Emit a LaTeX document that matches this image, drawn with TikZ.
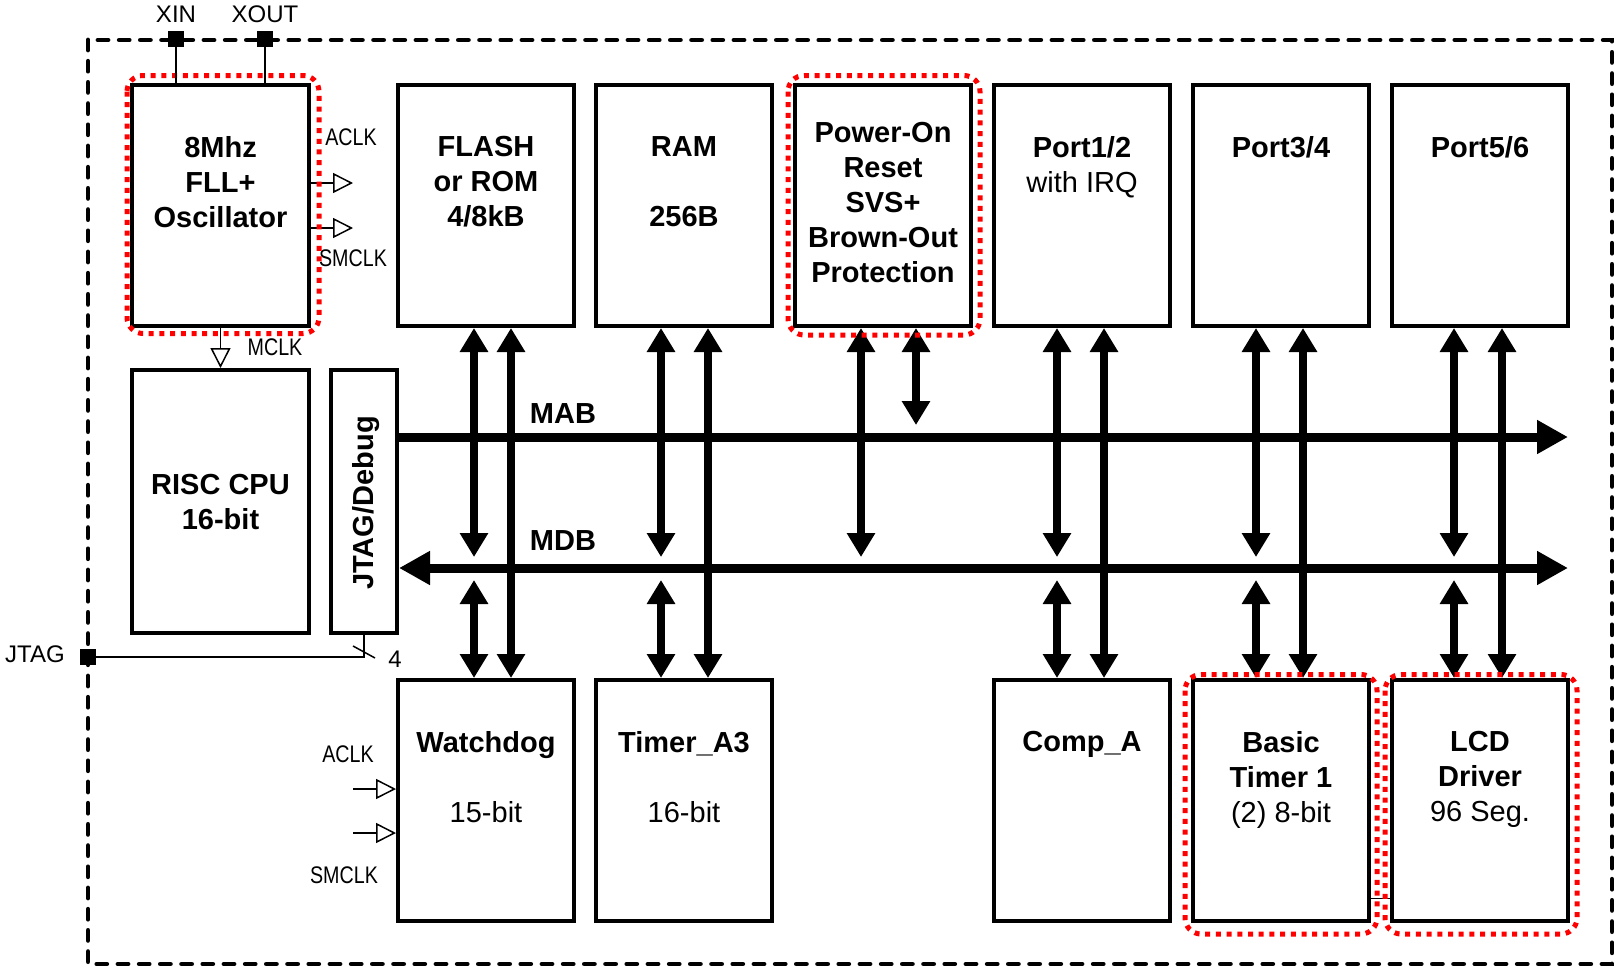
\documentclass[tikz,border=0pt]{standalone}
\usepackage{fontspec}
\setmainfont{Liberation Sans}
\newfontfamily\narrowfont[FakeStretch=0.82]{Liberation Sans}
\usetikzlibrary{arrows.meta}
\tikzset{
  BusTip/.tip={Triangle[length=31pt,width=32pt]},
  VTip/.tip={Triangle[length=24pt,width=27pt]},
  ClkTip/.tip={Triangle[open,length=20pt,width=20pt]}
}
\begin{document}
\begin{tikzpicture}[x=1pt,y=-1pt,
  blk/.style={draw, line width=4pt, inner sep=0pt, minimum width=176pt, minimum height=241pt},
  btxt/.style={font=\fontsize{29}{35}\selectfont\bfseries, align=center, inner sep=0pt, anchor=north},
  lbl/.style={font=\fontsize{24}{28}\selectfont, inner sep=0pt},
  nlbl/.style={font=\narrowfont\fontsize{24}{28}\selectfont, inner sep=0pt},
  border/.style={line width=4.8pt, dash pattern=on 10pt off 11.2pt, line cap=round},
  bus/.style={line width=9pt},
  vbus/.style={line width=8pt, VTip-VTip},
  clk/.style={line width=1.5pt, -ClkTip},
  wire/.style={line width=2.5pt},
  jwire/.style={line width=2pt},
  pinsq/.style={fill=black, draw=none, minimum size=16pt, inner sep=0pt},
  reddot/.style={draw=red, line width=5pt, dash pattern=on 5pt off 5.7pt, rounded corners=16pt}
]
\fill[white] (0,0) rectangle (1617,969);
\useasboundingbox (0,0) rectangle (1617,969);

% outer dashed border
\draw[border] (88,40) rectangle (1612,964);

% blocks
\node[blk, minimum width=177pt] (osc) at (220.5,205.5) {};
\node[blk] (flash) at (486,205.5) {};
\node[blk] (ram) at (684,205.5) {};
\node[blk] (por) at (883,205.5) {};
\node[blk] (p12) at (1082,205.5) {};
\node[blk] (p34) at (1281,205.5) {};
\node[blk] (p56) at (1480,205.5) {};
\node[blk, minimum width=177pt, minimum height=263pt] (risc) at (220.5,501.5) {};
\node[blk, minimum width=66pt, minimum height=263pt] (jtag) at (364,501.5) {};
\node[blk] (wdt) at (486,800.5) {};
\node[blk] (tima) at (684,800.5) {};
\node[blk] (comp) at (1082,800.5) {};
\node[blk] (bt) at (1281,800.5) {};
\node[blk] (lcd) at (1480,800.5) {};

% block texts
\node[btxt] (tosc) at (220.5,136) {8Mhz\\FLL+\\Oscillator};
\node[btxt] (tflash) at (486,136) {FLASH\\or ROM\\4/8kB};
\node[btxt] (tram) at (684,136) {RAM\\[35pt]256B};
\node[btxt] (tpor) at (883,122) {Power-On\\Reset\\SVS+\\Brown-Out\\Protection};
\node[btxt] (tp12) at (1082,136) {Port1/2\\{\mdseries with IRQ}};
\node[btxt] (tp34) at (1281,136) {Port3/4};
\node[btxt] (tp56) at (1480,136) {Port5/6};
\node[btxt] (trisc) at (220.5,474) {RISC CPU\\16-bit};
\node[btxt, rotate=90, anchor=center] (tjtag) at (366,503) {JTAG/Debug};
\node[btxt] (twdt) at (486,731) {Watchdog\\[35pt]{\mdseries 15-bit}};
\node[btxt] (ttima) at (684,731) {Timer\_A3\\[35pt]{\mdseries 16-bit}};
\node[btxt] (tcomp) at (1082,731) {Comp\_A};
\node[btxt] (tbt) at (1281,731) {Basic\\Timer 1\\{\mdseries (2) 8-bit}};
\node[btxt] (tlcd) at (1480,731) {LCD\\Driver\\{\mdseries 96 Seg.}};

% buses
\coordinate (mabE) at (1568,437);
\coordinate (mdbE) at (1568,568);
\draw[bus, -BusTip] (jtag.east |- mabE) -- (mabE);
\draw[bus, BusTip-BusTip] (jtag.east |- mdbE) -- (mdbE);
\node[btxt, anchor=base] (lmab) at (563,423) {MAB};
\node[btxt, anchor=base] (lmdb) at (563,550) {MDB};

% vertical bus connections
\foreach \t/\b/\xa/\xb in {flash/wdt/474/511, ram/tima/661/708, p12/comp/1057/1104, p34/bt/1256/1303, p56/lcd/1454/1502} {
  \coordinate (u\t) at (\xa,557);
  \coordinate (d\t) at (\xa,580);
  \coordinate (r\t) at (\xb,0);
  \draw[vbus] (u\t |- \t.south) -- (u\t);
  \draw[vbus] (d\t) -- (d\t |- \b.north);
  \draw[vbus] (r\t |- \t.south) -- (r\t |- \b.north);
}
\coordinate (upor) at (861,557);
\coordinate (mpor) at (916,425);
\draw[vbus] (upor |- por.south) -- (upor);
\draw[vbus] (mpor |- por.south) -- (mpor);

% clocks
\coordinate (oa) at (353,183);
\coordinate (os) at (353,228);
\draw[clk] (osc.east |- oa) -- (oa);
\draw[clk] (osc.east |- os) -- (os);
\draw[clk] (osc.south) -- (risc.north);
\coordinate (wa) at (353,789);
\coordinate (ws) at (353,833);
\draw[clk] (wa) -- (wa -| wdt.west);
\draw[clk] (ws) -- (ws -| wdt.west);
\node[nlbl] (laclk1) at (351,137) {ACLK};
\node[nlbl] (lsmclk1) at (353,258) {SMCLK};
\node[nlbl] (lmclk) at (275,347) {MCLK};
\node[nlbl] (laclk2) at (348,754) {ACLK};
\node[nlbl] (lsmclk2) at (344,875) {SMCLK};

% thin link between Basic Timer and LCD
\coordinate (thin) at (0,898);
\draw[line width=1pt] (bt.east |- thin) -- (lcd.west |- thin);

% red dotted highlights
\draw[reddot] (127,75.5) rectangle (319,333.5);
\draw[reddot] (788,75.5) rectangle (980,335);
\draw[reddot] (1185,674.5) rectangle (1377,934);
\draw[reddot] (1385,674.5) rectangle (1577,934);

% pins
\node[pinsq] (xinpin) at (176,39) {};
\node[pinsq] (xoutpin) at (265,39) {};
\node[pinsq] (jtagpin) at (88,657) {};
\draw[wire] (xinpin.center) -- (xinpin |- osc.north);
\draw[wire] (xoutpin.center) -- (xoutpin |- osc.north);
\draw[jwire] (jtagpin.center) -- (jtag.south |- jtagpin) -- (jtag.south);
\draw[line width=1.5pt] (353,646) -- (375,658);
\node[lbl] (lxin) at (176,14) {XIN};
\node[lbl] (lxout) at (265,14) {XOUT};
\node[lbl] (ljtag) at (35,654) {JTAG};
\node[lbl] (l4) at (395,659) {4};
\end{tikzpicture}
\end{document}
